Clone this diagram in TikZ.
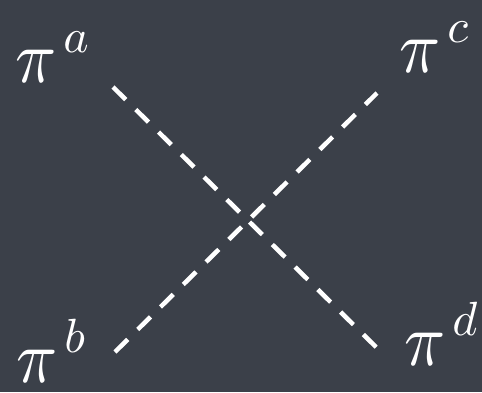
\documentclass[tikz,border=0pt]{standalone}
\usepackage{graphicx}
\definecolor{slate}{RGB}{59,64,73}
\tikzset{
  lbl/.style={inner sep=0pt, anchor=base west, text=white},
  dashline/.style={white, line width=4.5pt, dash pattern=on 18pt off 14pt}
}
\newcommand{\pilabel}[1]{\scalebox{6.8}[7.5]{$\pi$}\hspace{7pt}\raisebox{30pt}{\scalebox{4.8}{$#1$}}}
\begin{document}
\begin{tikzpicture}[x=1pt,y=-1pt]
\fill[slate] (0,0) rectangle (482,392);
\useasboundingbox (0,0) rectangle (482,392);
\coordinate (a1) at (113,87);
\coordinate (d1) at (377,348);
\coordinate (b1) at (115,352);
\coordinate (c1) at (377,93);
\draw[dashline] (a1) -- (d1);
\draw[dashline] (b1) -- (c1);
\node[lbl] (la) at (15,82) {\pilabel{a}};
\node[lbl] (lc) at (399,72) {\pilabel{c}};
\node[lbl] (lb) at (16,382) {\pilabel{b}};
\node[lbl] (ld) at (404,365) {\pilabel{d}};
\end{tikzpicture}
\end{document}
